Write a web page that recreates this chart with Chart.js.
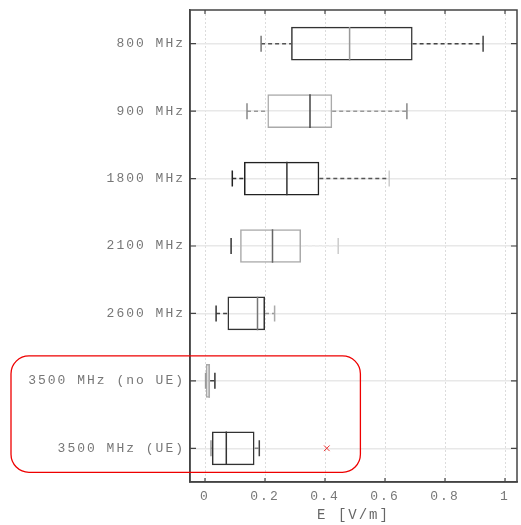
<!DOCTYPE html>
<html><head><meta charset="utf-8">
<script src="https://cdn.jsdelivr.net/npm/chart.js@4/dist/chart.umd.min.js"></script>
<style>html,body{margin:0;padding:0;background:#fff}#wrap{width:521px;height:525px}</style>
</head><body><div id="wrap"><canvas id="c"></canvas></div>
<script>
const categories = ['800 MHz','900 MHz','1800 MHz','2100 MHz','2600 MHz','3500 MHz (no UE)','3500 MHz (UE)'];
const whiskerLow  = [0.187,0.140,0.091,0.087,0.037,0.002,0.020];
const q1          = [0.287,0.208,0.130,0.117,0.075,0.003,0.023];
const median      = [0.482,0.350,0.273,0.225,0.175,0.014,0.071];
const q3          = [0.692,0.424,0.381,0.320,0.200,0.017,0.165];
const whiskerHigh = [0.927,0.673,0.614,0.444,0.232,0.033,0.181];
const outlierValues = [0.406];
const outlierCategories = ['3500 MHz (UE)'];
const xTickValues = [0,0.2,0.4,0.6,0.8,1];
const xTickLabels = ['0','0.2','0.4','0.6','0.8','1'];

const boxColors      = ['#333','#aaa','#222','#aaa','#333','#aaa','#333'];
const medianColors   = ['#999','#444','#333','#666','#777','#aaa','#333'];
const lowWhiskColors = ['#555','#999','#333','#eee','#444','#aaa','#777'];
const highWhiskColors= ['#444','#999','#555','#eee','#999','#444','#888'];
const lowCapColors   = ['#777','#888','#222','#333','#333','#999','#999'];
const highCapColors  = ['#444','#888','#ccc','#ccc','#aaa','#333','#444'];

Chart.defaults.font.family = '"Liberation Mono", monospace';
Chart.defaults.color = '#777';

const datasets = [];
datasets.push({
  type:'bar', label:'box',
  data: categories.map((c,i)=>[q1[i], q3[i]]),
  backgroundColor:'rgba(0,0,0,0)', borderColor: boxColors, borderWidth:1.5,
  borderSkipped:false, barPercentage:0.5, categoryPercentage:1, grouped:false, order:2
});
categories.forEach((c,i)=>{
  datasets.push({type:'line', data:[{x:whiskerLow[i],y:c},{x:q1[i],y:c}], borderColor:lowWhiskColors[i],
    borderWidth:1.5, borderDash:[4,3], pointRadius:0, fill:false, order:1});
  datasets.push({type:'line', data:[{x:q3[i],y:c},{x:whiskerHigh[i],y:c}], borderColor:highWhiskColors[i],
    borderWidth:1.5, borderDash:[4,3], pointRadius:0, fill:false, order:1});
});
datasets.push({type:'line', showLine:false,
  data: categories.map((c,i)=>({x:median[i],y:c})),
  pointStyle:'line', pointRotation:90, pointRadius:16.8, pointBorderColor:medianColors, pointBorderWidth:1.5, order:0});
datasets.push({type:'line', showLine:false,
  data: categories.map((c,i)=>({x:whiskerLow[i],y:c})).concat(categories.map((c,i)=>({x:whiskerHigh[i],y:c}))),
  pointStyle:'line', pointRotation:90, pointRadius:8, pointBorderColor:lowCapColors.concat(highCapColors), pointBorderWidth:1.5, order:0});
datasets.push({type:'line', showLine:false,
  data: outlierValues.map((v,i)=>({x:v,y:outlierCategories[i]})),
  pointStyle:'crossRot', pointRadius:4, pointBorderColor:'#e33', pointBorderWidth:1, order:0});

const spacing = {id:'spacing',
  beforeUpdate(c){c.ctx.letterSpacing='2px';},
  beforeDraw(c){c.ctx.letterSpacing='2px';}};
const frame = {id:'frame', afterDraw(c){
  const ctx=c.ctx, a=c.chartArea, xs=c.scales.x, ys=c.scales.y;
  ctx.save();
  ctx.strokeStyle='#444'; ctx.lineWidth=1.5;
  ctx.strokeRect(a.left,a.top,a.right-a.left,a.bottom-a.top);
  ctx.lineWidth=1.2;
  ctx.beginPath();
  xTickValues.forEach(v=>{const p=xs.getPixelForValue(v);
    ctx.moveTo(p,a.top);ctx.lineTo(p,a.top+4);ctx.moveTo(p,a.bottom);ctx.lineTo(p,a.bottom-4);});
  categories.forEach((cat,i)=>{const p=ys.getPixelForValue(i);
    ctx.moveTo(a.left,p);ctx.lineTo(a.left+6,p);ctx.moveTo(a.right,p);ctx.lineTo(a.right-6,p);});
  ctx.stroke();
  // highlight box around the 3500 MHz rows
  const top=ys.getPixelForValue(5)-25, bottom=ys.getPixelForValue(6)+24, right=xs.getPixelForValue(0.518);
  ctx.strokeStyle='#e00'; ctx.lineWidth=1.3;
  ctx.beginPath(); ctx.roundRect(11,top,right-11,bottom-top,18); ctx.stroke();
  ctx.restore();
}};

new Chart(document.getElementById('c'), {
  type:'bar',
  data:{labels:categories, datasets},
  plugins:[spacing, frame],
  options:{
    indexAxis:'y', responsive:true, maintainAspectRatio:false, animation:false,
    events:[],
    layout:{autoPadding:false, padding:{top:10,right:4,left:0,bottom:0}},
    plugins:{legend:{display:false}, tooltip:{enabled:false}},
    scales:{
      x:{type:'linear', min:-0.05, max:1.04,
        afterBuildTicks(s){s.ticks=xTickValues.map(v=>({value:v}));},
        afterFit(s){s.height=43; s.paddingLeft=0; s.paddingRight=0;},
        ticks:{padding:7, font:{size:13}, color:'#777', maxRotation:0,
          callback:(v)=>{const k=xTickValues.findIndex(t=>Math.abs(t-v)<1e-9);return k>=0?xTickLabels[k]:'';}},
        grid:{color:'#dcdcdc', lineWidth:1, drawTicks:false},
        border:{display:true, color:'#444', width:1.5, dash:[2,2]},
        title:{display:true, text:'E [V/m]', font:{size:14}, color:'#666', padding:{top:0,bottom:1}}
      },
      y:{type:'category', offset:true,
        afterFit(s){s.width=190; s.paddingTop=0; s.paddingBottom=0;},
        ticks:{padding:5, font:{size:13}, color:'#777'},
        grid:{color:'#e8e8e8', lineWidth:1.5, offset:false, drawTicks:false},
        border:{display:true, color:'#444', width:1.5}
      }
    }
  }
});
</script></body></html>
